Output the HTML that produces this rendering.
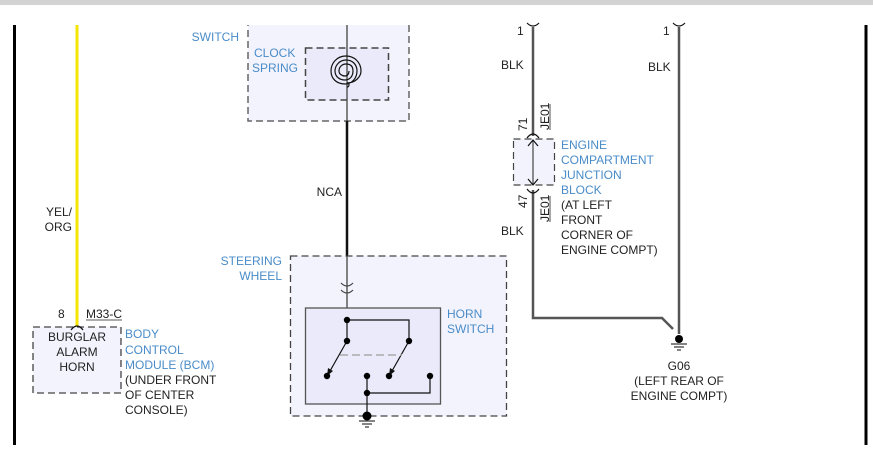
<!DOCTYPE html>
<html><head><style>
html,body{margin:0;padding:0;background:#fff;}
svg{display:block;}
text{font-family:"Liberation Sans",Arial,sans-serif;font-size:12px;fill:#222;}
.b{fill:#4a8cc8;}
</style></head><body>
<svg width="873" height="471" viewBox="0 0 873 471" xmlns="http://www.w3.org/2000/svg">
<rect x="0" y="0" width="873" height="5" fill="#d3d3d3"/>
<defs><clipPath id="c"><rect x="0" y="25" width="873" height="446"/></clipPath></defs>
<text x="239" y="23" text-anchor="end" class="b" clip-path="url(#c)">MULTI-FUNCTION</text>
<g clip-path="url(#c)">
<line x1="14.5" y1="0" x2="14.5" y2="445" stroke="#000" stroke-width="3"/>
<line x1="866" y1="0" x2="866" y2="445" stroke="#000" stroke-width="3"/>
<line x1="77" y1="0" x2="77" y2="328" stroke="#f5e600" stroke-width="3"/>
<rect x="248" y="10" width="161" height="111" fill="#f3f3fd" stroke="#666" stroke-width="1.5" stroke-dasharray="7,4"/>
<rect x="305.5" y="48" width="83" height="52" fill="#eaeafa" stroke="#444" stroke-width="1.5" stroke-dasharray="7,4"/>
<line x1="347" y1="0" x2="347" y2="121" stroke="#444" stroke-width="1.3"/>
</g>
<path d="M347,87 A2,2 0 0 0 347,83 M347,83 C 355,83 361,77 361,71 C 361,62 354,56 346,56 C 337,56 331,63 331,71 C 331,79 337,84 345,84 C 352,84 357,78 357,71 C 357,64 352,60 346,60 C 340,60 335,65 335,71 C 335,77 340,80 345,80 C 350,80 353,76 353,71 C 353,66 350,64 346,64 C 342,64 339,67 339,71 C 339,74 342,76 345,76 C 348,76 349,73 349,71" fill="none" stroke="#111" stroke-width="1.2"/>
<line x1="347" y1="121" x2="347" y2="285" stroke="#111" stroke-width="2.5"/>
<text x="239" y="41" text-anchor="end" class="b">SWITCH</text>
<text x="254" y="57" class="b">CLOCK</text>
<text x="252" y="72" class="b">SPRING</text>
<text x="342" y="196" text-anchor="end">NCA</text>
<text x="72" y="216" text-anchor="end">YEL/</text>
<text x="72" y="231" text-anchor="end">ORG</text>
<!-- BCM -->
<rect x="33" y="327" width="88" height="66" fill="#f3f3fd" stroke="#444" stroke-width="1.3" stroke-dasharray="7,4"/>
<path d="M71,330 Q77,322 83,330" fill="none" stroke="#111" stroke-width="1.2"/>
<text x="58" y="318">8</text>
<text x="86" y="318">M33-C</text>
<line x1="86" y1="320" x2="122" y2="320" stroke="#222" stroke-width="0.8"/>
<text x="77" y="341" text-anchor="middle">BURGLAR</text>
<text x="77" y="356" text-anchor="middle">ALARM</text>
<text x="77" y="371" text-anchor="middle">HORN</text>
<text x="125" y="338" class="b">BODY</text>
<text x="125" y="354" class="b">CONTROL</text>
<text x="125" y="369" class="b">MODULE (BCM)</text>
<text x="125" y="384">(UNDER FRONT</text>
<text x="125" y="399">OF CENTER</text>
<text x="125" y="414">CONSOLE)</text>
<!-- steering wheel -->
<rect x="290.5" y="256" width="216" height="160" fill="#f3f3fd" stroke="#444" stroke-width="1.3" stroke-dasharray="7,4"/>
<text x="282" y="265" text-anchor="end" class="b">STEERING</text>
<text x="282" y="280" text-anchor="end" class="b">WHEEL</text>
<line x1="347" y1="256" x2="347" y2="320" stroke="#444" stroke-width="1.3"/>
<path d="M341,283 Q347,289 353,283 M341,290 Q347,296 353,290" fill="none" stroke="#444" stroke-width="1.2"/>
<rect x="305.5" y="308" width="135" height="96" fill="#eaeafa" stroke="#555" stroke-width="1.3"/>
<text x="447" y="318" class="b">HORN</text>
<text x="447" y="333" class="b">SWITCH</text>
<g stroke="#111" stroke-width="1.2" fill="none">
<line x1="347" y1="320" x2="347" y2="341"/>
<polyline points="347,320 409,320 409,341"/>
<line x1="347" y1="341" x2="330" y2="371"/>
<line x1="409" y1="341" x2="392" y2="371"/>
<line x1="367" y1="376" x2="367" y2="416"/>
<polyline points="367,393 430,393 430,376"/>
</g>
<path d="M327,376 l1,-8 l5,3z M389,376 l1,-8 l5,3z" fill="#111"/>
<line x1="340" y1="355" x2="402" y2="355" stroke="#aaa" stroke-width="1.5" stroke-dasharray="8,4"/>
<g fill="#000">
<circle cx="347" cy="320" r="3.2"/><circle cx="347" cy="341" r="3.2"/><circle cx="409" cy="341" r="3.2"/>
<circle cx="327" cy="376" r="3.2"/><circle cx="367" cy="376" r="3.2"/><circle cx="389" cy="376" r="3.2"/><circle cx="430" cy="376" r="3.2"/>
<circle cx="367" cy="393" r="3.2"/><circle cx="367" cy="416" r="4.5"/>
</g>
<g stroke="#333" stroke-width="1.2"><line x1="359" y1="421" x2="375" y2="421"/><line x1="362" y1="424" x2="372" y2="424"/><line x1="365" y1="427" x2="369" y2="427"/></g>
<!-- right side -->
<g stroke="#555" stroke-width="2.5" fill="none">
<line x1="533" y1="27" x2="533" y2="136"/>
<polyline points="533,190 533,318 662,318 673,329"/>
<line x1="679" y1="27" x2="679" y2="334"/>
</g>
<path d="M527,23 Q533,29 539,23 M673,23 Q679,29 685,23" fill="none" stroke="#111" stroke-width="1.2"/>
<text x="517" y="35">1</text><text x="663" y="35">1</text>
<text x="501" y="69">BLK</text><text x="648" y="71">BLK</text>
<text x="501" y="235">BLK</text>
<rect x="513.5" y="139" width="41" height="46" fill="#f3f3fd" stroke="#444" stroke-width="1.2" stroke-dasharray="7,4"/>
<path d="M527,138 Q533,130 539,138 M527,189 Q533,197 539,189" fill="none" stroke="#111" stroke-width="1.2"/>
<line x1="533" y1="140" x2="533" y2="185" stroke="#444" stroke-width="1.2"/>
<path d="M528,146 L533,140 L538,146 M528,179 L533,185 L538,179" fill="none" stroke="#111" stroke-width="1.2"/>
<text transform="translate(527,131) rotate(-90)">71</text>
<text transform="translate(549,130) rotate(-90)">JE01</text>
<line x1="550" y1="104" x2="550" y2="130" stroke="#222" stroke-width="0.8"/>
<text transform="translate(527,208) rotate(-90)">47</text>
<text transform="translate(549,222) rotate(-90)">JE01</text>
<line x1="550" y1="196" x2="550" y2="222" stroke="#222" stroke-width="0.8"/>
<text x="561" y="149" class="b">ENGINE</text>
<text x="561" y="164" class="b">COMPARTMENT</text>
<text x="561" y="179" class="b">JUNCTION</text>
<text x="561" y="194" class="b">BLOCK</text>
<text x="561" y="209">(AT LEFT</text>
<text x="561" y="224">FRONT</text>
<text x="561" y="239">CORNER OF</text>
<text x="561" y="254">ENGINE COMPT)</text>
<circle cx="679" cy="339" r="4" fill="#000"/>
<g stroke="#333" stroke-width="1.2"><line x1="671" y1="344" x2="687" y2="344"/><line x1="674" y1="347" x2="684" y2="347"/><line x1="677" y1="350" x2="681" y2="350"/></g>
<text x="679" y="370" text-anchor="middle">G06</text>
<text x="679" y="385" text-anchor="middle">(LEFT REAR OF</text>
<text x="679" y="400" text-anchor="middle">ENGINE COMPT)</text>
</svg>
</body></html>
